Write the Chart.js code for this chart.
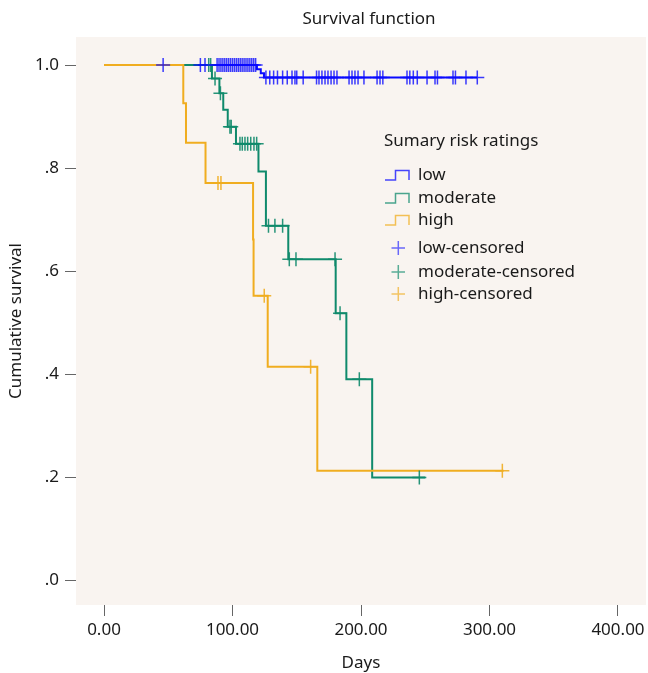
<!DOCTYPE html>
<html>
<head>
<meta charset="utf-8">
<script src="https://cdn.jsdelivr.net/npm/chart.js@4.4.1/dist/chart.umd.min.js"></script>
<style>
	html, body { margin: 0; padding: 0; background: #fff; }
	#wrap { width: 648px; height: 673px; }
</style>
</head>
<body>
<div id="wrap"><canvas id="km" width="648" height="673"></canvas></div>
<script>
// Kaplan-Meier steps: day of each change and the survival after it
var lowDays = [0, 119, 122, 124.5, 290.5];
var lowSurv = [1.0, 0.992, 0.984, 0.976, 0.976];
var modDays = [0, 84, 89.8, 92.8, 96.3, 102.7, 120.2, 126, 143.4, 180.3, 188.6, 208.7, 250];
var modSurv = [1.0, 0.974, 0.945, 0.913, 0.880, 0.847, 0.793, 0.688, 0.623, 0.518, 0.390, 0.199, 0.199];
var highDays = [0, 61.7, 63.8, 79, 116, 116.4, 127.4, 166, 311];
var highSurv = [1.0, 0.926, 0.849, 0.771, 0.661, 0.552, 0.414, 0.212, 0.212];

// censored cases
var lowCensDays = [46, 75, 78.6, 88, 89.5, 91, 92.5, 94, 95.5, 97, 98.5, 100, 101.5, 103, 104.5, 106, 107.5, 109, 110.5, 112, 113.5, 115, 116.5, 118,
	126, 129, 132, 135, 139, 142.6, 146.3, 148.6, 150, 155, 165.4, 167.3, 169.6, 172, 174.3, 176.7, 179, 181.3, 190.7, 193, 195.3, 197.7, 202.3,
	212.5, 214.8, 217, 235.8, 238, 240.7, 243.8, 251.4, 257.6, 259.5, 271.6, 273.5, 281.7, 290.5];
var lowCensSurv = [1, 1, 1, 1, 1, 1, 1, 1, 1, 1, 1, 1, 1, 1, 1, 1, 1, 1, 1, 1, 1, 1, 1, 1,
	0.976, 0.976, 0.976, 0.976, 0.976, 0.976, 0.976, 0.976, 0.976, 0.976, 0.976, 0.976, 0.976, 0.976, 0.976, 0.976, 0.976, 0.976, 0.976, 0.976, 0.976, 0.976, 0.976,
	0.976, 0.976, 0.976, 0.976, 0.976, 0.976, 0.976, 0.976, 0.976, 0.976, 0.976, 0.976, 0.976, 0.976];
var modCensDays = [81.5, 83, 86.4, 90.6, 98, 99, 105.8, 107.6, 109.7, 111.8, 114.2, 116.7, 118.8, 128, 133, 139, 144.2, 149.4, 179.8, 183.7, 198.7, 245.4];
var modCensSurv = [1, 1, 0.974, 0.945, 0.880, 0.880, 0.847, 0.847, 0.847, 0.847, 0.847, 0.847, 0.847, 0.688, 0.688, 0.688, 0.623, 0.623, 0.623, 0.518, 0.390, 0.199];
var highCensDays = [88.7, 91, 124.7, 160.8, 310];
var highCensSurv = [0.771, 0.771, 0.552, 0.414, 0.212];

var xTickValues = [0, 100, 200, 300, 400];
var yTickValues = [0, 0.2, 0.4, 0.6, 0.8, 1.0];
var yTickLabels = ['.0', '.2', '.4', '.6', '.8', '1.0'];

var FONT = '"Noto Sans", "DejaVu Sans", sans-serif';
var colLow = '#0a0aff';
var colMod = '#0f8a6c';
var colHigh = '#f0ad20';

function pts(days, surv) {
	return days.map(function(d, i) { return {x: d, y: surv[i]}; });
}

function stepSet(label, days, surv, color, order) {
	return {
		label: label,
		data: pts(days, surv),
		showLine: true,
		stepped: 'before',
		borderColor: color,
		backgroundColor: color,
		borderWidth: 2,
		pointRadius: 0,
		fill: false,
		order: order,
		kind: 'line'
	};
}

function censSet(label, days, surv, color) {
	return {
		label: label,
		data: pts(days, surv),
		showLine: false,
		pointStyle: 'cross',
		pointRadius: 7,
		pointBorderWidth: 1.5,
		borderColor: color,
		backgroundColor: color,
		order: 0,
		kind: 'cross'
	};
}

var plotBg = {
	id: 'plotBg',
	beforeDraw: function(chart) {
		var a = chart.chartArea, ctx = chart.ctx;
		ctx.save();
		ctx.fillStyle = '#f9f4f0';
		ctx.fillRect(a.left, a.top, a.right - a.left, a.bottom - a.top);
		ctx.restore();
	}
};

var titleAndLegend = {
	id: 'titleAndLegend',
	afterDraw: function(chart) {
		var ctx = chart.ctx;
		ctx.save();
		ctx.font = '17px ' + FONT;
		ctx.fillStyle = '#1a1a1a';
		ctx.textBaseline = 'middle';
		ctx.textAlign = 'center';
		ctx.fillText('Survival function', 369, 19);

		ctx.textAlign = 'left';
		ctx.fillText('Sumary risk ratings', 384, 141);
		var rowsY = [175, 198, 220, 248, 272, 294];
		chart.data.datasets.forEach(function(ds, i) {
			var y = rowsY[i];
			ctx.globalAlpha = 0.75;
			ctx.strokeStyle = ds.borderColor;
			ctx.lineWidth = 1.5;
			ctx.beginPath();
			if (ds.kind === 'line') {
				ctx.moveTo(385, y + 5);
				ctx.lineTo(395.5, y + 5);
				ctx.lineTo(395.5, y - 4.5);
				ctx.lineTo(409, y - 4.5);
				ctx.lineTo(409, y + 5);
			} else {
				ctx.moveTo(391.5, y);
				ctx.lineTo(405, y);
				ctx.moveTo(398.3, y - 7);
				ctx.lineTo(398.3, y + 7);
			}
			ctx.stroke();
			ctx.globalAlpha = 1;
			ctx.fillStyle = '#1a1a1a';
			ctx.fillText(ds.label, 418, y);
		});
		ctx.restore();
	}
};

new Chart(document.getElementById('km'), {
	type: 'scatter',
	data: {
		datasets: [
			stepSet('low', lowDays, lowSurv, colLow, 3),
			stepSet('moderate', modDays, modSurv, colMod, 2),
			stepSet('high', highDays, highSurv, colHigh, 1),
			censSet('low-censored', lowCensDays, lowCensSurv, 'rgba(10,10,255,0.8)'),
			censSet('moderate-censored', modCensDays, modCensSurv, 'rgba(15,138,108,0.9)'),
			censSet('high-censored', highCensDays, highCensSurv, 'rgba(240,173,32,0.9)')
		]
	},
	options: {
		responsive: false,
		devicePixelRatio: 1,
		animation: false,
		events: [],
		layout: { autoPadding: false, padding: { top: 37, right: 2, left: 0, bottom: 0 } },
		plugins: {
			legend: { display: false },
			title: { display: false },
			tooltip: { enabled: false }
		},
		scales: {
			x: {
				type: 'linear',
				min: -21.8,
				max: 421.8,
				afterBuildTicks: function(scale) {
					scale.ticks = xTickValues.map(function(v) { return {value: v}; });
				},
				afterFit: function(scale) {
					scale.height = 68;
					scale.paddingLeft = 0;
					scale.paddingRight = 0;
				},
				ticks: {
					padding: 4,
					color: '#1a1a1a',
					font: { family: FONT, size: 17 },
					maxRotation: 0,
					callback: function(v) { return Number(v).toFixed(2); }
				},
				grid: { display: true, drawOnChartArea: false, drawTicks: true, tickLength: 11, color: '#666' },
				border: { display: false },
				title: {
					display: true,
					text: 'Days',
					color: '#1a1a1a',
					font: { family: FONT, size: 17 },
					padding: { top: 2, bottom: 0 }
				}
			},
			y: {
				type: 'linear',
				min: -0.0485,
				max: 1.0544,
				afterBuildTicks: function(scale) {
					scale.ticks = yTickValues.map(function(v) { return {value: v}; });
				},
				afterFit: function(scale) {
					scale.width = 76;
					scale.paddingTop = 0;
					scale.paddingBottom = 0;
				},
				ticks: {
					padding: 6,
					color: '#1a1a1a',
					font: { family: FONT, size: 17 },
					callback: function(v, i) { return yTickLabels[i]; }
				},
				grid: { display: true, drawOnChartArea: false, drawTicks: true, tickLength: 11, color: '#666' },
				border: { display: false },
				title: {
					display: true,
					text: 'Cumulative survival',
					color: '#1a1a1a',
					font: { family: FONT, size: 17 },
					padding: { top: 6, bottom: 0 }
				}
			}
		}
	},
	plugins: [plotBg, titleAndLegend]
});
</script>
</body>
</html>
